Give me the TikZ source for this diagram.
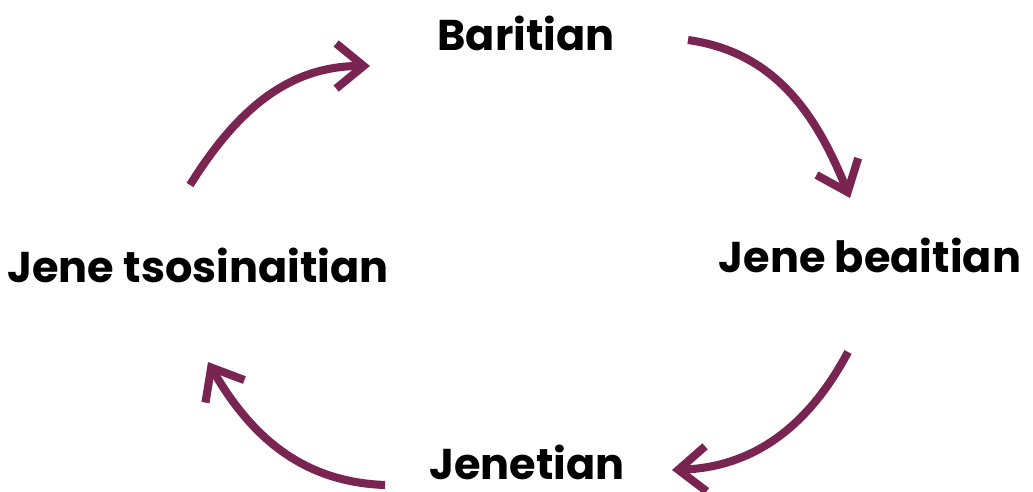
\documentclass[tikz,border=0pt]{standalone}
\usepackage{fontspec}
\setmainfont{Poppins}
\usetikzlibrary{arrows.meta}
\definecolor{plum}{HTML}{7A2452}
\begin{document}
\begin{tikzpicture}[x=0.02cm, y=-0.02cm,
    lbl/.style={font=\fontsize{24.5}{30}\selectfont\bfseries, text=black, inner sep=0pt},
    cyc/.style={plum, line width=4.6pt, -{Straight Barb[length=5.5mm, width=9mm, line width=4.6pt]}}]
    \useasboundingbox (0,0) rectangle (1033,492);
    \node[lbl] (bar)  at (526, 33)  {Baritian};
    \node[lbl] (beai) at (870, 255) {Jene beaitian};
    \node[lbl] (jen)  at (527, 462) {Jenetian};
    \node[lbl] (tsos) at (198, 265) {Jene tsosinaitian};
    % free ends of the arrows
    \coordinate (a1) at (190, 185); \coordinate (b1) at (370, 66);
    \coordinate (a2) at (688, 40);  \coordinate (b2) at (850, 198);
    \coordinate (a3) at (848, 352); \coordinate (b3) at (672, 470);
    \coordinate (a4) at (385, 485); \coordinate (b4) at (208, 362);
    \draw[cyc] (a1) to[out=58, in=180] (b1);
    \draw[cyc] (a2) to[out=-8, in=112] (b2);
    \draw[cyc] (a3) to[out=-118, in=2] (b3);
    \draw[cyc] (a4) to[out=178, in=-60] (b4);
\end{tikzpicture}
\end{document}
